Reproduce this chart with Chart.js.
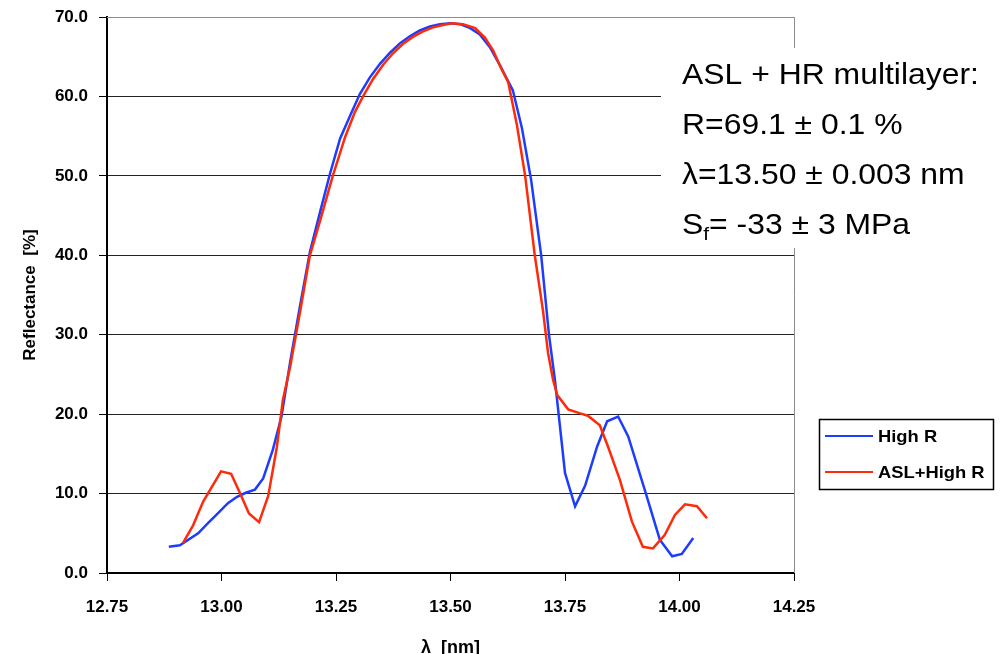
<!DOCTYPE html>
<html>
<head>
<meta charset="utf-8">
<script src="https://cdn.jsdelivr.net/npm/chart.js@4"></script>
<style>
  body { margin: 0; background: #fff; }
</style>
</head>
<body>
<canvas id="reflChart" width="1000" height="654"></canvas>
<script>
// wavelength [nm] / reflectance [%]
var highRX = [12.885, 12.909, 12.949, 12.971, 12.992, 13.014, 13.034, 13.053, 13.073, 13.091,
    13.112, 13.131, 13.150, 13.171, 13.193, 13.215, 13.237, 13.259, 13.281, 13.302,
    13.324, 13.346, 13.368, 13.390, 13.412, 13.433, 13.455, 13.477, 13.499, 13.521,
    13.543, 13.564, 13.586, 13.608, 13.636, 13.656, 13.676, 13.698, 13.715, 13.728,
    13.750, 13.772, 13.794, 13.820, 13.842, 13.866, 13.888, 13.925, 13.957, 13.984,
    14.005, 14.030];
var highRY = [3.3, 3.5, 5.0, 6.3, 7.5, 8.8, 9.6, 10.1, 10.5, 11.9,
    15.5, 19.7, 26.6, 33.5, 40.4, 45.4, 50.3, 54.7, 57.6, 60.3,
    62.4, 64.1, 65.5, 66.7, 67.6, 68.3, 68.8, 69.1, 69.2, 69.1,
    68.6, 67.8, 66.2, 63.9, 60.8, 56.0, 49.5, 40.0, 30.0, 24.3,
    12.6, 8.4, 11.0, 15.9, 19.1, 19.7, 17.2, 10.3, 4.2, 2.1,
    2.4, 4.4];

var aslX = [12.916, 12.938, 12.960, 12.999, 13.021, 13.040, 13.060, 13.082, 13.102, 13.121,
    13.134, 13.150, 13.171, 13.193, 13.215, 13.243, 13.270, 13.291, 13.309, 13.331,
    13.353, 13.374, 13.396, 13.418, 13.440, 13.462, 13.484, 13.503, 13.527, 13.554,
    13.575, 13.593, 13.610, 13.626, 13.645, 13.663, 13.684, 13.702, 13.713, 13.724,
    13.733, 13.757, 13.783, 13.800, 13.826, 13.844, 13.870, 13.896, 13.920, 13.942,
    13.968, 13.990, 14.012, 14.038, 14.060];
var aslY = [3.8, 6.0, 9.0, 12.8, 12.5, 10.1, 7.5, 6.4, 9.7, 15.9,
    21.8, 26.0, 32.7, 40.0, 44.3, 50.0, 54.9, 58.0, 60.0, 62.2,
    64.0, 65.4, 66.6, 67.5, 68.2, 68.7, 69.0, 69.2, 69.1, 68.6,
    67.4, 65.8, 63.6, 61.8, 56.4, 50.0, 40.0, 33.0, 27.7, 24.3,
    22.4, 20.6, 20.1, 19.8, 18.6, 15.9, 11.7, 6.5, 3.3, 3.1,
    4.8, 7.3, 8.65, 8.4, 6.9];

var seriesNames = ['High R', 'ASL+High R'];
var seriesColors = ['#1e3cff', '#ff2a0a'];
var noteLines = ['ASL + HR multilayer:', 'R=69.1 \u00b1 0.1 %', '\u03bb=13.50 \u00b1 0.003 nm'];
var stressNote = ['S', 'f', '= -33 \u00b1 3 MPa'];

var FONT = "'Liberation Sans', Arial, sans-serif";

function pairs(xs, ys) {
    return xs.map(function (x, i) { return { x: x, y: ys[i] }; });
}

function wideText(ctx, text, x, y, sx) {
    ctx.save();
    ctx.translate(x, y);
    ctx.scale(sx, 1);
    ctx.fillText(text, 0, 0);
    var w = ctx.measureText(text).width * sx;
    ctx.restore();
    return w;
}

// plot frame, text box with the fit results, boxed legend
var extras = {
    id: 'extras',
    beforeDatasetsDraw: function (chart) {
        var a = chart.chartArea, ctx = chart.ctx;
        ctx.save();
        ctx.strokeStyle = '#8c8c8c';
        ctx.lineWidth = 1;
        ctx.beginPath();
        ctx.moveTo(a.left, a.top + 0.5);
        ctx.lineTo(a.right + 0.5, a.top + 0.5);
        ctx.lineTo(a.right + 0.5, a.bottom);
        ctx.stroke();
        ctx.restore();
    },
    afterDatasetsDraw: function (chart) {
        var ctx = chart.ctx;
        ctx.save();
        ctx.fillStyle = '#fff';
        ctx.fillRect(661, 48, 339, 200);

        ctx.fillStyle = '#000';
        ctx.textBaseline = 'alphabetic';
        ctx.font = '29px ' + FONT;
        noteLines.forEach(function (t, i) {
            wideText(ctx, t, 682, 84 + i * 50, 1.1);
        });
        var x = 682;
        x += wideText(ctx, stressNote[0], x, 234, 1.1);
        ctx.font = '19px ' + FONT;
        x += wideText(ctx, stressNote[1], x, 240, 1.1);
        ctx.font = '29px ' + FONT;
        wideText(ctx, stressNote[2], x, 234, 1.1);

        // legend
        ctx.strokeStyle = '#000';
        ctx.lineWidth = 1.5;
        ctx.strokeRect(819.5, 419.5, 174, 70);
        ctx.font = 'bold 17px ' + FONT;
        ctx.textBaseline = 'middle';
        seriesNames.forEach(function (name, i) {
            var y = 436 + i * 36;
            ctx.strokeStyle = seriesColors[i];
            ctx.lineWidth = 2;
            ctx.beginPath();
            ctx.moveTo(825, y);
            ctx.lineTo(873, y);
            ctx.stroke();
            ctx.fillStyle = '#000';
            wideText(ctx, name, 878, y + 1, 1.08);
        });
        ctx.restore();
    }
};

var ctx = document.getElementById('reflChart').getContext('2d');
var reflChart = new Chart(ctx, {
    type: 'line',
    data: {
        datasets: [{
            label: seriesNames[0],
            data: pairs(highRX, highRY),
            borderColor: seriesColors[0],
            borderWidth: 2.5,
            pointRadius: 0,
            fill: false,
            order: 2
        }, {
            label: seriesNames[1],
            data: pairs(aslX, aslY),
            borderColor: seriesColors[1],
            borderWidth: 2.5,
            pointRadius: 0,
            fill: false,
            order: 1
        }]
    },
    options: {
        responsive: false,
        animation: false,
        devicePixelRatio: 1,
        layout: { autoPadding: false, padding: { left: 0, top: 17, right: 206, bottom: 0 } },
        plugins: {
            legend: { display: false },
            tooltip: { enabled: false }
        },
        scales: {
            x: {
                type: 'linear',
                min: 12.75,
                max: 14.25,
                afterFit: function (scale) {
                    scale.height = 81;
                    scale.paddingLeft = 0;
                    scale.paddingRight = 0;
                },
                border: { color: '#000', width: 2 },
                grid: { drawOnChartArea: false, drawTicks: true, tickLength: 8, tickColor: '#000' },
                ticks: {
                    stepSize: 0.25,
                    padding: 16,
                    color: '#000',
                    maxRotation: 0,
                    font: { family: FONT, size: 17, weight: 'bold' },
                    callback: function (v) { return Number(v).toFixed(2); }
                },
                title: {
                    display: true,
                    text: '\u03bb  [nm]',
                    color: '#000',
                    font: { family: FONT, size: 18, weight: 'bold', lineHeight: 1.2 },
                    padding: { top: 0, bottom: -5 }
                }
            },
            y: {
                min: 0,
                max: 70,
                afterFit: function (scale) {
                    scale.width = 107;
                    scale.paddingTop = 0;
                    scale.paddingBottom = 0;
                },
                border: { color: '#000', width: 2 },
                grid: {
                    color: function (c) { return c.tick && c.tick.value === 70 ? '#8c8c8c' : '#222'; },
                    lineWidth: 1,
                    tickLength: 8,
                    tickColor: '#000'
                },
                ticks: {
                    stepSize: 10,
                    padding: 11,
                    color: '#000',
                    font: { family: FONT, size: 17, weight: 'bold' },
                    callback: function (v) { return Number(v).toFixed(1); }
                },
                title: {
                    display: true,
                    text: 'Reflectance  [%]',
                    color: '#000',
                    font: { family: FONT, size: 17, weight: 'bold', lineHeight: 1.2 },
                    padding: { top: 20, bottom: 0 }
                }
            }
        }
    },
    plugins: [extras]
});
</script>
</body>
</html>
